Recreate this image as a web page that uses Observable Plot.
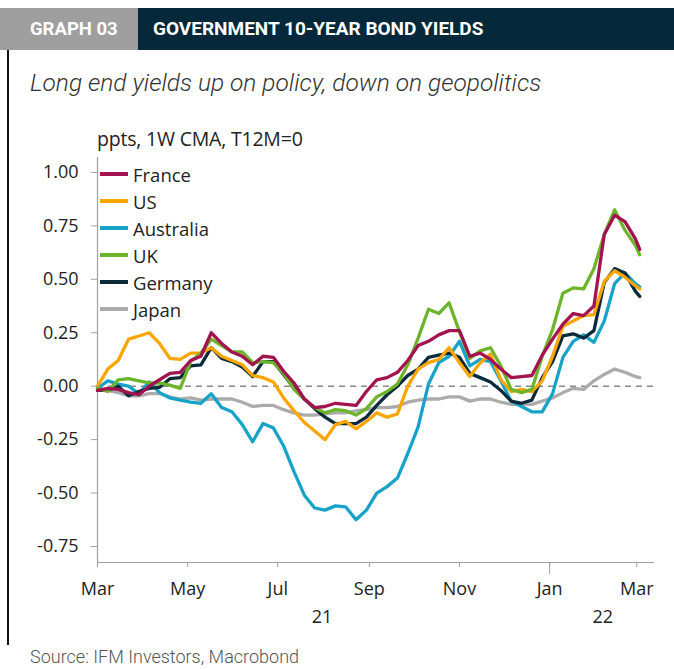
<!DOCTYPE html>
<html><head><meta charset="utf-8">
<script src="https://cdn.jsdelivr.net/npm/d3@7"></script>
<script src="https://cdn.jsdelivr.net/npm/@observablehq/plot@0.6"></script>
<style>
body{margin:0;background:#fff;}
#wrap{position:relative;width:674px;height:669px;overflow:hidden;font-family:Roboto, sans-serif;background:#fff;}
.tag{position:absolute;left:0;top:8px;width:108px;height:42px;padding-left:30px;background:#9E9E9E;color:#fff;font:700 18.5px Roboto;line-height:42px;}
.title{position:absolute;left:138px;top:8px;width:521px;height:42px;padding-left:15px;background:#05283B;color:#fff;font:700 19px Roboto;line-height:42px;}
.border{position:absolute;left:7px;top:50px;width:1.5px;height:595px;background:#111;}
.sub{position:absolute;left:30px;top:67px;font:italic 300 24.5px Roboto;line-height:32px;color:#333;white-space:nowrap;}
.unit{position:absolute;left:97px;top:127px;font:19.5px "Open Sans";line-height:24px;color:#222;white-space:nowrap;letter-spacing:-0.2px;}
#chart{position:absolute;left:0;top:120px;}
#legend{position:absolute;left:100px;top:160.5px;font:18.5px "Open Sans";color:#222;}
#legend .row{height:27px;line-height:27px;display:flex;align-items:center;white-space:nowrap;}
#legend .sw{width:28px;height:4px;margin-right:5px;}
.src{position:absolute;left:30px;top:646px;font:300 18px Roboto;line-height:22px;color:#555;white-space:nowrap;}
</style></head><body>
<div id="wrap">
  <div class="tag">GRAPH 03</div>
  <div class="title">GOVERNMENT 10-YEAR BOND YIELDS</div>
  <div class="border"></div>
  <div class="sub">Long end yields up on policy, down on geopolitics</div>
  <div class="unit">ppts, 1W CMA, T12M=0</div>
  <div id="chart"></div>
  <div id="legend"></div>
  <div class="src">Source: IFM Investors, Macrobond</div>
</div>
<script>
const dates = [
"2021-03-01","2021-03-08","2021-03-15","2021-03-22","2021-03-29","2021-04-05","2021-04-12","2021-04-19","2021-04-26",
"2021-05-03","2021-05-10","2021-05-17","2021-05-24","2021-05-31","2021-06-07","2021-06-14","2021-06-21","2021-06-28",
"2021-07-05","2021-07-12","2021-07-19","2021-07-26","2021-08-02","2021-08-09","2021-08-16","2021-08-23","2021-08-30",
"2021-09-06","2021-09-13","2021-09-20","2021-09-27","2021-10-04","2021-10-11","2021-10-18","2021-10-25","2021-11-01",
"2021-11-08","2021-11-15","2021-11-22","2021-11-29","2021-12-06","2021-12-13","2021-12-20","2021-12-27","2022-01-03",
"2022-01-10","2022-01-17","2022-01-24","2022-01-31","2022-02-07","2022-02-14","2022-02-21","2022-02-28","2022-03-03"];

const france = [-0.02,-0.01,-0.015,-0.03,-0.04,0.0,0.03,0.06,0.065,0.12,0.14,0.25,0.20,0.16,0.14,0.10,0.14,0.135,
0.07,0.015,-0.06,-0.10,-0.095,-0.08,-0.085,-0.09,-0.025,0.03,0.04,0.065,0.12,0.19,0.21,0.24,0.26,0.26,
0.14,0.155,0.125,0.08,0.04,0.045,0.05,0.145,0.22,0.29,0.34,0.33,0.375,0.71,0.80,0.77,0.69,0.64];
const us = [0.0,0.08,0.12,0.22,0.235,0.25,0.20,0.13,0.125,0.155,0.155,0.18,0.14,0.12,0.10,0.05,0.04,0.02,
-0.055,-0.115,-0.17,-0.21,-0.25,-0.18,-0.165,-0.20,-0.165,-0.125,-0.145,-0.13,0.0,0.08,0.11,0.125,0.18,0.11,
0.045,0.11,0.15,0.03,-0.025,-0.015,-0.025,0.025,0.14,0.28,0.305,0.33,0.335,0.49,0.54,0.51,0.47,0.455];
const australia = [-0.01,0.025,0.01,0.0,-0.035,0.02,-0.03,-0.055,-0.065,-0.075,-0.08,-0.035,-0.10,-0.12,-0.18,-0.26,-0.175,-0.195,
-0.28,-0.40,-0.51,-0.57,-0.58,-0.56,-0.565,-0.625,-0.58,-0.50,-0.47,-0.43,-0.315,-0.19,0.01,0.11,0.14,0.21,
0.095,0.125,0.115,0.025,-0.07,-0.095,-0.12,-0.12,-0.035,0.135,0.21,0.24,0.205,0.305,0.48,0.53,0.48,0.465];
const uk = [-0.01,-0.025,0.03,0.035,0.025,0.015,0.015,0.005,-0.01,0.115,0.155,0.22,0.19,0.16,0.16,0.11,0.115,0.11,
0.06,-0.015,-0.06,-0.10,-0.125,-0.11,-0.115,-0.135,-0.105,-0.05,-0.025,0.01,0.10,0.225,0.36,0.34,0.39,0.255,
0.13,0.165,0.18,0.095,-0.015,-0.03,-0.015,0.14,0.265,0.435,0.46,0.455,0.55,0.71,0.825,0.73,0.66,0.615];
const germany = [-0.02,-0.02,0.0,-0.045,-0.025,-0.01,-0.005,0.035,0.04,0.095,0.10,0.18,0.13,0.115,0.09,0.045,0.115,0.115,
0.055,-0.01,-0.06,-0.105,-0.145,-0.175,-0.175,-0.175,-0.145,-0.09,-0.04,0.0,0.05,0.08,0.135,0.145,0.155,0.135,
0.06,0.04,0.02,-0.02,-0.07,-0.08,-0.065,0.04,0.115,0.235,0.245,0.225,0.26,0.485,0.55,0.53,0.445,0.42];
const japan = [-0.01,-0.02,-0.03,-0.045,-0.045,-0.035,-0.035,-0.05,-0.06,-0.055,-0.065,-0.06,-0.06,-0.06,-0.075,-0.095,-0.09,-0.09,
-0.11,-0.125,-0.135,-0.135,-0.13,-0.125,-0.125,-0.115,-0.11,-0.10,-0.10,-0.095,-0.075,-0.065,-0.06,-0.06,-0.05,-0.05,
-0.07,-0.06,-0.06,-0.075,-0.085,-0.085,-0.085,-0.07,-0.055,-0.03,-0.01,-0.015,0.025,0.055,0.08,0.065,0.045,0.04];

const seriesNames = ["France","US","Australia","UK","Germany","Japan"];
const seriesColors = ["#A3134F","#FBA600","#17A3C9","#6EB42B","#0B2A3B","#ABABAB"];
const seriesValues = [france, us, australia, uk, germany, japan];
const drawOrder = ["Japan","Australia","Germany","US","UK","France"];

const yTicks = [-0.75,-0.5,-0.25,0,0.25,0.5,0.75,1.0];
const xTickDates = ["2021-03-01","2021-05-01","2021-07-01","2021-09-01","2021-11-01","2022-01-01","2022-03-01"];
const xTickLabels = ["Mar","May","Jul","Sep","Nov","Jan","Mar"];
const yearLabels = ["21","22"];
const yearLabelDates = ["2021-07-31","2022-02-06"];
const yearBoundary = "2022-01-01";
const xDomain = ["2021-03-01","2022-03-13"];
const yDomain = [-0.825, 1.07];

const lineMarks = drawOrder.map(name => {
  const i = seriesNames.indexOf(name);
  const rows = dates.map((d, j) => ({date: new Date(d), v: seriesValues[i][j]}));
  return Plot.line(rows, {x: "date", y: "v", stroke: seriesColors[i], strokeWidth: 3.3, strokeLinejoin: "round"});
});

const labelMap = new Map(xTickDates.map((d, i) => [+new Date(d), xTickLabels[i]]));

const chart = Plot.plot({
  width: 674, height: 510,
  marginLeft: 97, marginRight: 20, marginTop: 37, marginBottom: 68,
  x: {type: "utc", domain: xDomain.map(d => new Date(d))},
  y: {domain: yDomain},
  style: {fontFamily: "Open Sans", fontSize: "18px", color: "#222", background: "transparent", overflow: "visible"},
  marks: [
    Plot.ruleY([0], {stroke: "#8a8a8a", strokeWidth: 1.6, strokeDasharray: "6,5"}),
    Plot.ruleX([new Date(xDomain[0])], {stroke: "#a0a0a0", strokeWidth: 1.2}),
    Plot.ruleY([yDomain[0]], {stroke: "#a0a0a0", strokeWidth: 1.2}),
    ...lineMarks,
    Plot.axisY({ticks: yTicks, tickFormat: d => d.toFixed(2), tickSize: 6, tickPadding: 13, label: null, stroke: "#a0a0a0", fill: "#222"}),
    Plot.axisX({ticks: xTickDates.map(d => new Date(d)), tickFormat: d => labelMap.get(+d), tickSize: 5, tickPadding: 15, label: null, stroke: "#a0a0a0", fill: "#222"}),
    Plot.axisX({ticks: [new Date(yearBoundary)], tickSize: 12, tickFormat: () => "", label: null, stroke: "#a0a0a0"}),
    Plot.text(yearLabels, {x: yearLabelDates.map(d => new Date(d)), text: d => d, frameAnchor: "bottom", dy: 60, fontSize: 18, fill: "#222"})
  ]
});
document.getElementById("chart").appendChild(chart);

const legend = document.getElementById("legend");
seriesNames.forEach((n, i) => {
  const row = document.createElement("div");
  row.className = "row";
  const sw = document.createElement("div");
  sw.className = "sw";
  sw.style.background = seriesColors[i];
  const t = document.createElement("span");
  t.textContent = n;
  row.appendChild(sw); row.appendChild(t);
  legend.appendChild(row);
});
</script>
</body></html>
